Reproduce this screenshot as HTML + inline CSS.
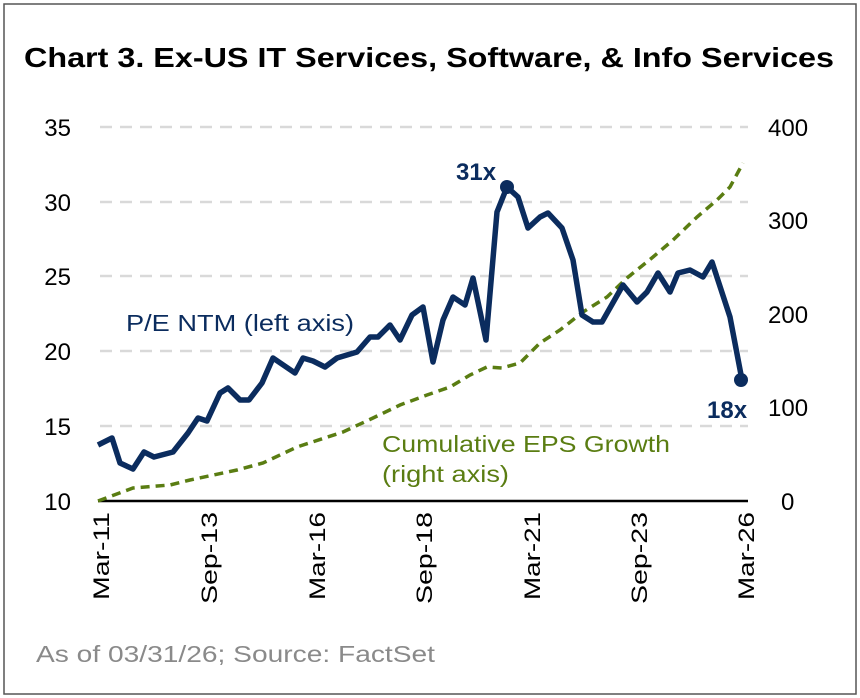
<!DOCTYPE html>
<html><head><style>
body{margin:0;background:#fff;}
svg{display:block;font-family:"Liberation Sans",Arial,sans-serif;}
</style></head><body>
<svg width="860" height="698" viewBox="0 0 860 698">
<rect x="4" y="4" width="852" height="690" fill="#fff" stroke="#555" stroke-width="1.5"/>
<text x="24" y="67" font-size="28" font-weight="bold" fill="#000" textLength="810" lengthAdjust="spacingAndGlyphs">Chart 3. Ex-US IT Services, Software, &amp; Info Services</text>
<g stroke="#d9d9d9" stroke-width="2.5" stroke-dasharray="12,8">
<line x1="100" y1="127" x2="748" y2="127"/>
<line x1="100" y1="202" x2="748" y2="202"/>
<line x1="100" y1="276" x2="748" y2="276"/>
<line x1="100" y1="351" x2="748" y2="351"/>
<line x1="100" y1="426" x2="748" y2="426"/>
</g>
<line x1="98" y1="501" x2="748" y2="501" stroke="#000" stroke-width="2.5"/>
<g font-size="24" fill="#000" text-anchor="end">
<text x="71" y="136">35</text><text x="71" y="211">30</text><text x="71" y="285">25</text><text x="71" y="360">20</text><text x="71" y="435">15</text><text x="71" y="510">10</text>
</g>
<g font-size="24" fill="#000">
<text x="768" y="136">400</text><text x="768" y="229">300</text><text x="768" y="323">200</text><text x="768" y="416">100</text><text x="781" y="510">0</text>
</g>
<g font-size="22" fill="#000" text-anchor="end">
<text transform="translate(109,512) rotate(-90)" textLength="88" lengthAdjust="spacingAndGlyphs">Mar-11</text>
<text transform="translate(217,512) rotate(-90)" textLength="92" lengthAdjust="spacingAndGlyphs">Sep-13</text>
<text transform="translate(325,512) rotate(-90)" textLength="88" lengthAdjust="spacingAndGlyphs">Mar-16</text>
<text transform="translate(432,512) rotate(-90)" textLength="92" lengthAdjust="spacingAndGlyphs">Sep-18</text>
<text transform="translate(540,512) rotate(-90)" textLength="88" lengthAdjust="spacingAndGlyphs">Mar-21</text>
<text transform="translate(647,512) rotate(-90)" textLength="92" lengthAdjust="spacingAndGlyphs">Sep-23</text>
<text transform="translate(754,512) rotate(-90)" textLength="88" lengthAdjust="spacingAndGlyphs">Mar-26</text>
</g>
<polyline fill="none" stroke="#5a7d12" stroke-width="3.5" stroke-dasharray="9,6" points="98,501 133,488 170,485 190,480 237,470 263,463 297,447 343,432 373,418 400,405 427,395 450,387 470,375 487,367 502,368 520,363 540,343 560,330 583,312 607,297 627,278 653,257 673,240 697,217 717,200 730,187 743,163"/>
<polyline fill="none" stroke="#0b2c5e" stroke-width="5.5" stroke-linejoin="round" points="98,445 112,438 120,463 133,469 144,452 154,457 173,452 188,433 198,418 207,421 220,393 228,388 240,400 249,400 262,383 273,358 295,373 303,358 313,361 325,367 337,358 357,352 370,337 378,337 390,325 400,340 412,315 423,307 433,362 443,320 453,297 465,305 473,278 486,340 497,212 507,187 518,197 528,228 540,217 548,213 562,228 573,260 582,315 593,322 602,322 623,285 637,302 647,292 658,273 670,292 678,273 690,270 703,277 712,262 730,317 742,380"/>
<circle cx="507" cy="187" r="7" fill="#0b2c5e"/>
<circle cx="741" cy="380" r="7" fill="#0b2c5e"/>
<text x="456" y="180" font-size="24" font-weight="bold" fill="#0b2c5e">31x</text>
<text x="707" y="418" font-size="24" font-weight="bold" fill="#0b2c5e">18x</text>
<text x="126" y="331" font-size="23" fill="#0b2c5e" textLength="228" lengthAdjust="spacingAndGlyphs">P/E NTM (left axis)</text>
<text x="382" y="452" font-size="23" fill="#5a7d12" textLength="288" lengthAdjust="spacingAndGlyphs">Cumulative EPS Growth</text>
<text x="382" y="482" font-size="23" fill="#5a7d12" textLength="127" lengthAdjust="spacingAndGlyphs">(right axis)</text>
<text x="36" y="662" font-size="23" fill="#8a8a8a" textLength="399" lengthAdjust="spacingAndGlyphs">As of 03/31/26; Source:  FactSet</text>
</svg>
</body></html>
